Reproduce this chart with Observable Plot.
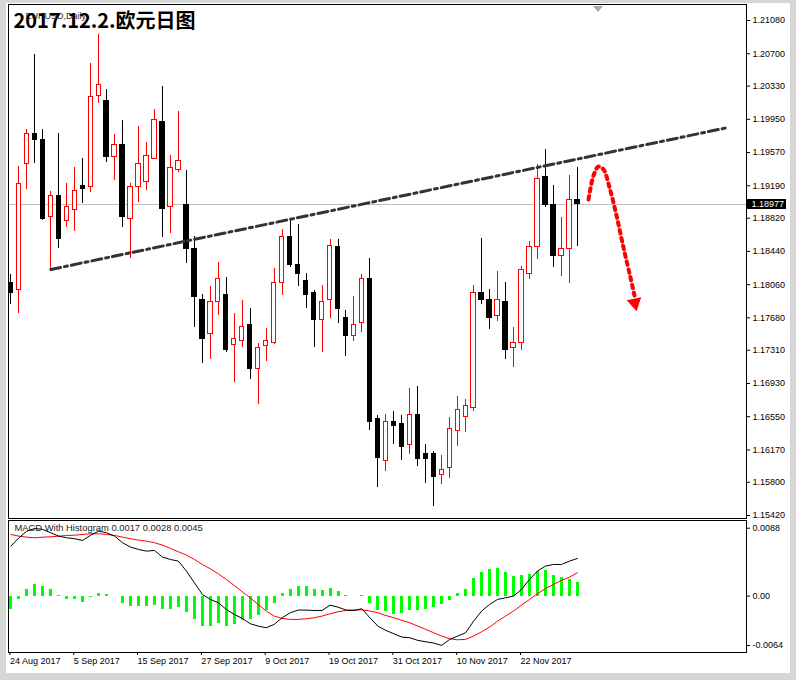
<!DOCTYPE html>
<html><head><meta charset="utf-8">
<script src="https://cdn.jsdelivr.net/npm/d3@7"></script>
<script src="https://cdn.jsdelivr.net/npm/@observablehq/plot@0.6"></script>
<style>
html,body{margin:0;padding:0;background:#fff;}
#wrap{position:relative;width:796px;height:680px;background:#d6d6d6;overflow:hidden;font-family:"Liberation Sans",Arial,sans-serif;}
#inner{position:absolute;left:6px;top:3px;width:784px;height:670px;background:#fff;}
#main,#macd{position:absolute;left:0;}
#main{top:0}
#macd{top:515px}
.shift{position:absolute;left:593px;top:6px;width:0;height:0;border-left:5px solid transparent;border-right:5px solid transparent;border-top:6px solid #a8a8a8;}
.crisp rect, .crisp line { shape-rendering: crispEdges; }
</style></head><body>
<div id="wrap"><div id="inner"></div><div id="main"></div><div id="macd"></div><div class="shift"></div></div>
<script>
// ---- Daily EURUSD candles, 24 Aug 2017 .. 1 Dec 2017 ----
const open = [1.18073,1.17993,1.19445,1.19777,1.19708,1.18828,1.19068,1.18793,1.18919,1.19193,
1.19171,1.20222,1.20165,1.19514,1.19651,1.18816,1.19171,1.19239,1.19491,1.19925,
1.18942,1.19376,1.18976,1.18462,1.17890,1.17490,1.17856,1.17947,1.17375,1.17421,
1.17604,1.17101,1.17353,1.17387,1.18084,1.18599,1.18279,1.18096,1.17970,1.17661,
1.17879,1.18485,1.17673,1.17478,1.17616,1.18130,1.16529,1.16038,1.16484,1.16461,
1.16221,1.16564,1.16118,1.16118,1.15878,1.15958,1.16381,1.16552,1.16655,1.17959,
1.17890,1.17707,1.17856,1.17330,1.17387,1.18187,1.18485,1.19285,1.18965,1.18393,
1.18462,1.19022];
const high = [1.18176,1.19411,1.19834,1.20691,1.19834,1.19125,1.19788,1.19216,1.19399,1.19502,
1.20588,1.20920,1.20291,1.19777,1.19937,1.19216,1.19868,1.19685,1.20062,1.20325,
1.19536,1.20040,1.19365,1.18610,1.17947,1.18039,1.18313,1.18142,1.17730,1.17879,
1.17787,1.17387,1.17558,1.18244,1.18690,1.18793,1.18747,1.18187,1.17993,1.18050,
1.18576,1.18576,1.17764,1.17924,1.18176,1.18359,1.16564,1.16575,1.16609,1.16564,
1.16872,1.16895,1.16232,1.16152,1.16106,1.16541,1.16781,1.16747,1.18050,1.18587,
1.18004,1.18210,1.18084,1.17570,1.18267,1.18553,1.19434,1.19605,1.19193,1.18828,
1.19308,1.19399];
const low = [1.17833,1.17730,1.19148,1.19445,1.18793,1.18233,1.18473,1.18713,1.18667,1.18988,
1.19113,1.20131,1.19456,1.19251,1.18713,1.18359,1.18999,1.19136,1.19491,1.18599,
1.18645,1.19342,1.18302,1.17570,1.17158,1.17204,1.17707,1.17284,1.16941,1.17341,
1.16975,1.16689,1.17181,1.17380,1.17936,1.18256,1.18039,1.17787,1.17341,1.17284,
1.17673,1.17616,1.17238,1.17410,1.17513,1.16392,1.15740,1.15923,1.16232,1.16049,
1.16118,1.15980,1.15786,1.15523,1.15775,1.15843,1.16209,1.16369,1.16609,1.17833,
1.17547,1.17638,1.17204,1.17112,1.17307,1.18119,1.18347,1.18942,1.18256,1.18153,
1.18073,1.18496];
const close = [1.17970,1.19216,1.19777,1.19719,1.18816,1.19079,1.18587,1.18942,1.19125,1.19148,
1.20211,1.20348,1.19514,1.19662,1.18839,1.19171,1.19445,1.19536,1.19937,1.18930,
1.19399,1.19468,1.18473,1.17924,1.17433,1.17856,1.18130,1.17307,1.17444,1.17581,
1.17090,1.17330,1.17410,1.18073,1.18610,1.18290,1.18187,1.17947,1.17661,1.17867,
1.18507,1.17776,1.17478,1.17593,1.18119,1.16495,1.16083,1.16495,1.16438,1.16209,
1.16564,1.16072,1.16072,1.15855,1.15935,1.16404,1.16632,1.16667,1.17970,1.17890,
1.17673,1.17890,1.17307,1.17387,1.18222,1.18485,1.19273,1.18965,1.18393,1.18462,
1.19033,1.18977];

// ---- MACD panel ----
const macdHist = [-0.0017,-0.0004,0.0009,0.0015,0.0012,0.0009,0.0001,-0.0004,-0.0005,-0.0008,
-0.0002,0.0004,0.0002,-0.0001,-0.0010,-0.0013,-0.0014,-0.0014,-0.0012,-0.0018,
-0.0017,-0.0015,-0.0021,-0.0030,-0.0039,-0.0040,-0.0036,-0.0039,-0.0037,-0.0032,
-0.0030,-0.0025,-0.0019,-0.0009,0.0003,0.0009,0.0013,0.0012,0.0009,0.0007,
0.0010,0.0006,0.0001,-0.0001,0.0001,-0.0009,-0.0019,-0.0020,-0.0024,-0.0023,
-0.0019,-0.0019,-0.0017,-0.0015,-0.0011,-0.0006,0.0003,0.0009,0.0023,0.0030,
0.0035,0.0036,0.0030,0.0026,0.0027,0.0028,0.0032,0.0033,0.0027,0.0024,
0.0022,0.0017];
const macdLine = [0.00648,0.00756,0.00842,0.00877,0.00864,0.00821,0.00777,0.00756,0.00743,0.00721,
0.00790,0.00842,0.00821,0.00777,0.00691,0.00635,0.00605,0.00583,0.00592,0.00505,
0.00475,0.00453,0.00324,0.00173,0.00022,-0.00043,-0.00086,-0.00173,-0.00238,-0.00289,
-0.00358,-0.00389,-0.00410,-0.00367,-0.00281,-0.00216,-0.00181,-0.00181,-0.00186,-0.00186,
-0.00117,-0.00143,-0.00181,-0.00186,-0.00164,-0.00281,-0.00389,-0.00445,-0.00488,-0.00531,
-0.00540,-0.00574,-0.00592,-0.00609,-0.00639,-0.00561,-0.00518,-0.00475,-0.00324,-0.00194,
-0.00108,-0.00043,-0.00022,0.00000,0.00086,0.00216,0.00324,0.00389,0.00410,0.00410,
0.00453,0.00488];
const signalLine = [0.00799,0.00777,0.00764,0.00756,0.00764,0.00769,0.00777,0.00786,0.00790,0.00799,
0.00808,0.00808,0.00799,0.00786,0.00764,0.00743,0.00726,0.00713,0.00691,0.00661,
0.00618,0.00574,0.00531,0.00475,0.00410,0.00354,0.00289,0.00216,0.00138,0.00056,
-0.00022,-0.00108,-0.00194,-0.00259,-0.00289,-0.00302,-0.00302,-0.00294,-0.00281,-0.00259,
-0.00229,-0.00203,-0.00186,-0.00181,-0.00177,-0.00194,-0.00216,-0.00251,-0.00281,-0.00315,
-0.00346,-0.00389,-0.00432,-0.00475,-0.00518,-0.00553,-0.00566,-0.00561,-0.00518,-0.00462,
-0.00402,-0.00324,-0.00259,-0.00194,-0.00117,-0.00043,0.00030,0.00099,0.00151,0.00203,
0.00246,0.00302];
const macdLabelValues = ["0.0017", "0.0028", "0.0045"];

// ---- Axes / annotations ----
const priceTicks = [1.2108,1.2070,1.2033,1.1995,1.1957,1.1919,1.1882,1.1844,1.1806,1.1768,1.1731,1.1693,1.1655,1.1617,1.1580,1.1542];
const macdTicks = [0.0088, 0, -0.0064];
const dateTickIndex = [0, 8, 16, 24, 32, 40, 48, 56, 64];
const dateTickLabels = ["24 Aug 2017","5 Sep 2017","15 Sep 2017","27 Sep 2017","9 Oct 2017","19 Oct 2017","31 Oct 2017","10 Nov 2017","22 Nov 2017"];
const lastPrice = [1.18977];
const trendIndex = [5, 89.9];
const trendPrice = [1.18233, 1.19857];
const forecastIndex = [72.40, 73.03, 73.65, 74.28, 75.03, 75.91, 76.78, 77.66, 78.16];
const forecastPrice = [1.19033, 1.19308, 1.19411, 1.19376, 1.19171, 1.18850, 1.18484, 1.18141, 1.17936];
const arrowHead = [{i: 78.2, p: 1.17850}];
const title = "2017.12.2.欧元日图";
const symbolLabel = "EURUSD,Daily";

const X_DOMAIN = [-0.3, 92.2];
const PRICE_DOMAIN = [1.15386, 1.21263];
const MACD_DOMAIN = [-0.00731, 0.00980];

const candles = open.map((o, i) => ({i, o, h: high[i], l: low[i], c: close[i], up: close[i] > o}));
const trend = trendIndex.map((x, k) => ({x, y: trendPrice[k]}));
const forecast = forecastIndex.map((x, k) => ({x, y: forecastPrice[k]}));
const idx = d3.range(open.length);
const font = "Liberation Sans, Arial, sans-serif";

const main = Plot.plot({
  width: 796, height: 520,
  marginLeft: 8, marginRight: 50, marginTop: 4, marginBottom: 2,
  className: "crisp",
  style: {background: "transparent", fontFamily: font, fontSize: "9px", color: "#000", overflow: "visible"},
  x: {type: "linear", domain: X_DOMAIN, axis: null},
  y: {type: "linear", domain: PRICE_DOMAIN, axis: null},
  marks: [
    Plot.ruleY(lastPrice, {stroke: "#c0c0c0", strokeWidth: 1}),
    Plot.text([symbolLabel], {frameAnchor: "top-left", text: d => d, dx: 17, dy: 8, lineAnchor: "top", textAnchor: "start", fill: "#333", fontSize: 9}),
    Plot.ruleX(candles, {x: "i", y1: "l", y2: "h", stroke: d => d.up ? "#ff0000" : "#000000", strokeWidth: 1}),
    Plot.rect(candles, {x1: d => d.i - 0.27, x2: d => d.i + 0.27, y1: "o", y2: "c",
      fill: d => d.up ? "#ffffff" : "#000000", stroke: d => d.up ? "#ff0000" : "#000000", strokeWidth: 1}),
    Plot.line(trend, {x: "x", y: "y", stroke: "#333333", strokeWidth: 3, strokeDasharray: "10,4,3,4"}),
    Plot.line(forecast, {x: "x", y: "y", curve: "catmull-rom", stroke: "#ff0000", strokeWidth: 4, strokeDasharray: "3.5,4.5"}),
    Plot.dot(arrowHead, {x: "i", y: "p", symbol: "triangle", rotate: 168, r: 5.5, fill: "#ff0000", stroke: "none"}),
    Plot.axisY({anchor: "right", ticks: priceTicks, tickFormat: d => d.toFixed(5), tickSize: 3, tickPadding: 3, fontSize: 9}),
    Plot.rect(lastPrice, {x1: X_DOMAIN[1], x2: X_DOMAIN[1], y1: d => d, y2: d => d, insetTop: -5, insetBottom: -5, insetRight: -40, fill: "#000"}),
    Plot.text(lastPrice, {x: X_DOMAIN[1], y: d => d, text: d => d.toFixed(5), dx: 5, textAnchor: "start", fill: "#fff", fontSize: 9}),
    Plot.frame({stroke: "#000"}),
    Plot.text([title], {frameAnchor: "top-left", text: d => d, dx: 5, dy: 9, lineAnchor: "top", textAnchor: "start",
      fontFamily: "Noto Sans CJK SC, Liberation Sans, sans-serif", fontWeight: "bold", fontSize: 20, fill: "#000"})
  ]
});
document.getElementById("main").appendChild(main);

const macd = Plot.plot({
  width: 796, height: 165,
  marginLeft: 8, marginRight: 50, marginTop: 5, marginBottom: 28,
  className: "crisp",
  style: {background: "transparent", fontFamily: font, fontSize: "9px", color: "#000", overflow: "visible"},
  x: {type: "linear", domain: X_DOMAIN, axis: null},
  y: {type: "linear", domain: MACD_DOMAIN, axis: null},
  marks: [
    Plot.ruleX(idx, {x: d => d, y1: 0, y2: i => macdHist[i], stroke: "#00ff00", strokeWidth: 3}),
    Plot.line(idx, {x: d => d, y: i => signalLine[i], stroke: "#ff0000", strokeWidth: 1}),
    Plot.line(idx, {x: d => d, y: i => macdLine[i], stroke: "#000000", strokeWidth: 1}),
    Plot.axisY({anchor: "right", ticks: macdTicks, tickFormat: d => d === 0 ? "0.00" : d.toFixed(4), tickSize: 3, tickPadding: 3, fontSize: 9}),
    Plot.axisX({anchor: "bottom", ticks: dateTickIndex, tickFormat: d => dateTickLabels[dateTickIndex.indexOf(d)], tickSize: 3, tickPadding: 2, textAnchor: "start", dx: -1, fontSize: 9}),
    Plot.frame({stroke: "#000"}),
    Plot.text(["MACD With Histogram " + macdLabelValues.join(" ")], {frameAnchor: "top-left", text: d => d, dx: 6, dy: 4, lineAnchor: "top", textAnchor: "start", fill: "#222", fontSize: 9.4})
  ]
});
document.getElementById("macd").appendChild(macd);
</script></body></html>
